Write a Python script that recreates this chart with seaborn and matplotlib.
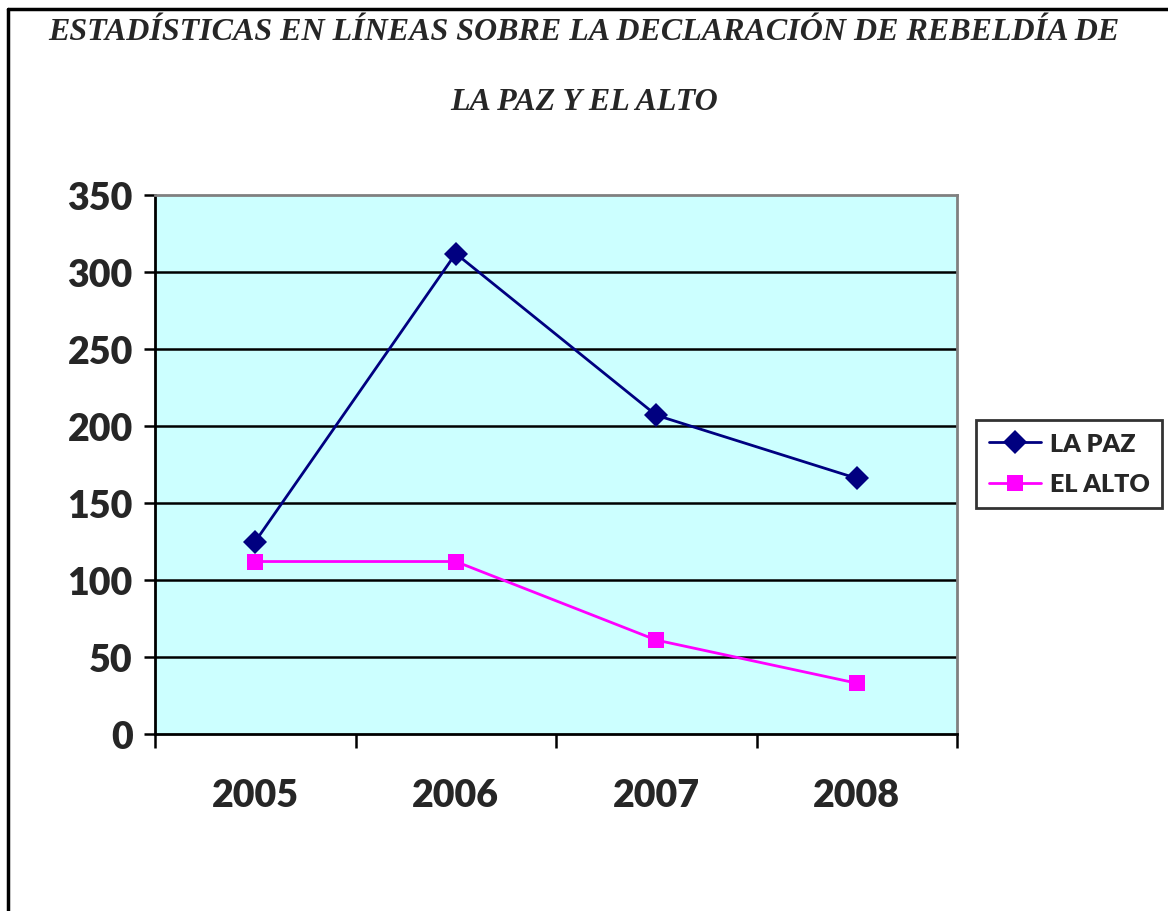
import pandas as pd
import matplotlib
matplotlib.use("Agg")
import matplotlib.pyplot as plt
from matplotlib.lines import Line2D
import seaborn as sns

# datos
years = ["2005", "2006", "2007", "2008"]
la_paz = [125, 312, 207, 166]
el_alto = [112, 112, 61, 33]
series = ["LA PAZ", "EL ALTO"]
yticks = [0, 50, 100, 150, 200, 250, 300, 350]

df = pd.DataFrame({
    "anio": years * 2,
    "valor": la_paz + el_alto,
    "serie": [series[0]] * len(years) + [series[1]] * len(years),
})

sns.set_theme(style="white")
plt.rcParams["font.family"] = ["Lato", "DejaVu Sans"]

W, H = 1168, 912
fig = plt.figure(figsize=(W / 100, H / 100), dpi=100)
ax = fig.add_axes([155 / W, 1 - 735 / H, (957 - 155) / W, (735 - 196) / H])
ax.set_facecolor("#CCFFFF")

sns.lineplot(data=df, x="anio", y="valor", hue="serie", style="serie",
             palette={"LA PAZ": "#000080", "EL ALTO": "#FF00FF"},
             markers={"LA PAZ": "D", "EL ALTO": "s"}, dashes=False,
             markersize=12, linewidth=2, markeredgewidth=0, ax=ax)

ax.set_xlim(-0.5, len(years) - 0.5)
ax.set_ylim(0, 350)
ax.set_yticks(yticks)
ax.set_yticklabels([str(v) for v in yticks], fontsize=27, fontweight="heavy")
for v in yticks[1:-1]:
    ax.axhline(v, color="black", linewidth=1.8, zorder=0.5)

ax.set_xticks([i - 0.5 for i in range(len(years) + 1)])
ax.set_xticklabels([])
ax.set_xticks(range(len(years)), minor=True)
ax.set_xticklabels(years, minor=True, fontsize=27, fontweight="heavy")
ax.tick_params(axis="x", which="minor", length=0, pad=32)
ax.tick_params(axis="x", which="major", length=10, width=1.8, color="black", direction="out", bottom=True)
ax.tick_params(axis="y", length=8, width=1.8, color="black", direction="out", left=True, pad=8)
ax.set_xlabel("")
ax.set_ylabel("")

for s in ["left", "bottom"]:
    ax.spines[s].set_color("black")
    ax.spines[s].set_linewidth(2)
for s in ["top", "right"]:
    ax.spines[s].set_color("#808080")
    ax.spines[s].set_linewidth(2)

handles, labels = ax.get_legend_handles_labels()
leg = ax.legend(handles, labels, loc="center left", bbox_to_anchor=(976 / W, 1 - 465 / H),
                bbox_transform=fig.transFigure, frameon=True, fancybox=False,
                prop={"weight": "heavy", "size": 18}, handlelength=2.1,
                borderpad=0.5, labelspacing=0.75, handletextpad=0.35,
                borderaxespad=0)
leg.get_frame().set_edgecolor("black")
leg.get_frame().set_linewidth(2)

fig.text(0.5, 1 - 33 / H, "ESTADÍSTICAS EN LÍNEAS SOBRE LA DECLARACIÓN DE REBELDÍA DE",
         ha="center", va="center", family="Liberation Serif", style="italic",
         weight="bold", fontsize=23)
fig.text(0.5, 1 - 103 / H, "LA PAZ Y EL ALTO",
         ha="center", va="center", family="Liberation Serif", style="italic",
         weight="bold", fontsize=23)

# marco del documento
fig.add_artist(Line2D([8 / W, 1], [1 - 10 / H, 1 - 10 / H], color="black", linewidth=2.5,
                      transform=fig.transFigure))
fig.add_artist(Line2D([8 / W, 8 / W], [0, 1 - 10 / H], color="black", linewidth=2.5,
                      transform=fig.transFigure))

fig.savefig("out.png", dpi=100)
